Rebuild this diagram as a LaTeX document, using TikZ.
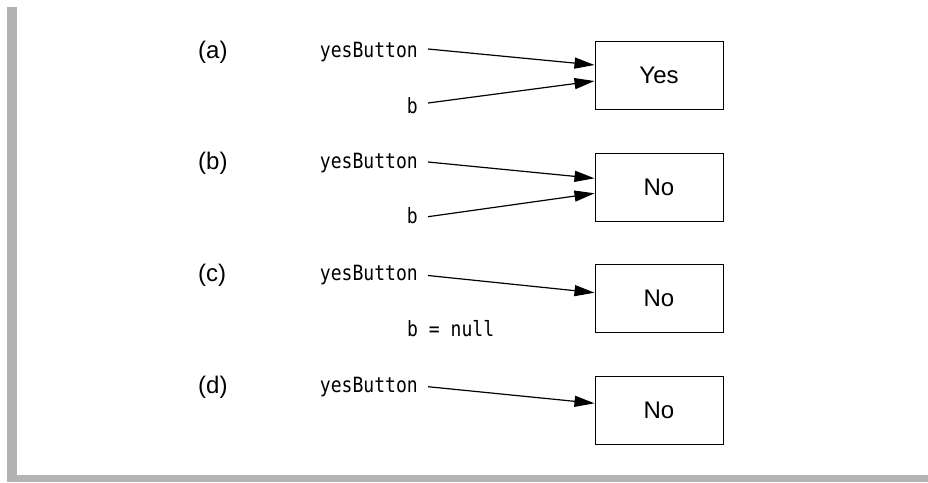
\documentclass[tikz,border=0pt]{standalone}
\usepackage{fontspec}
\setmainfont{Liberation Sans}
\setmonofont[FakeStretch=0.86]{DejaVu Sans Mono}
\usetikzlibrary{arrows.meta}
\definecolor{bargray}{HTML}{B3B3B3}
\tikzset{
  objbox/.style={draw, line width=1pt, minimum width=128pt, minimum height=68pt, inner sep=0pt, font=\fontsize{24}{24}\selectfont},
  caselab/.style={anchor=base west, inner sep=0pt, font=\fontsize{24}{24}\selectfont},
  varlab/.style={anchor=base east, inner sep=0pt, font=\ttfamily\fontsize{21}{21}\selectfont},
  ref/.style={line width=1.2pt, -{Triangle[length=20pt,width=11pt]}}
}
\begin{document}
\begin{tikzpicture}[x=1pt,y=-1pt]
\useasboundingbox (0,0) rectangle (928,482);
\fill[bargray] (7,7) rectangle (17,482);
\fill[bargray] (7,475) rectangle (928,482);

% (a)
\node[caselab] (la) at (198,58) {(a)};
\node[varlab] (ya) at (418,57) {yesButton};
\node[varlab] (ba) at (418,113) {b};
\node[objbox] (boxa) at (659,75) {Yes};
\coordinate (ya1) at (428,49);
\coordinate (ba1) at (428,103);
\draw[ref] (ya1) -- (boxa.west |- 0,65);
\draw[ref] (ba1) -- (boxa.west |- 0,81);

% (b)
\node[caselab] (lb) at (198,169) {(b)};
\node[varlab] (yb) at (418,168) {yesButton};
\node[varlab] (bb) at (418,223) {b};
\node[objbox] (boxb) at (659,187) {No};
\coordinate (yb1) at (428,162);
\coordinate (bb1) at (428,216.7);
\draw[ref] (yb1) -- (boxb.west |- 0,178.3);
\draw[ref] (bb1) -- (boxb.west |- 0,193.3);

% (c)
\node[caselab] (lc) at (198,281) {(c)};
\node[varlab] (yc) at (418,280) {yesButton};
\node[varlab, anchor=base west] (bc) at (407,336) {b = null};
\node[objbox] (boxc) at (659,298) {No};
\coordinate (yc1) at (428,275.5);
\draw[ref] (yc1) -- (boxc.west |- 0,292.7);

% (d)
\node[caselab] (ld) at (198,393) {(d)};
\node[varlab] (yd) at (418,392) {yesButton};
\node[objbox] (boxd) at (659,410) {No};
\coordinate (yd1) at (428,386.7);
\draw[ref] (yd1) -- (boxd.west |- 0,403.3);
\end{tikzpicture}
\end{document}
